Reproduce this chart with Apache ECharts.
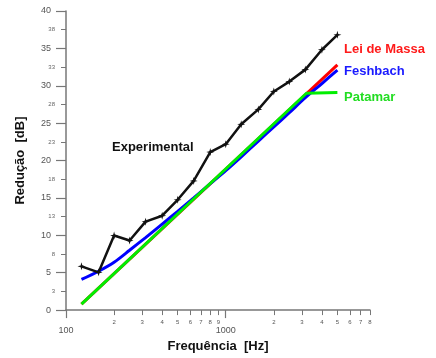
<!DOCTYPE html>
<html>
<head>
<meta charset="utf-8">
<script src="https://cdn.jsdelivr.net/npm/echarts@6/dist/echarts.min.js"></script>
<style>
  html, body { margin: 0; padding: 0; background: #fff; }
  #chart { width: 436px; height: 358px; }
</style>
</head>
<body>
<div id="chart"></div>
<script>
// third-octave bands
var freqs = [125, 160, 200, 250, 315, 400, 500, 630, 800, 1000, 1250, 1600, 2000, 2500, 3150, 4000, 5000];
var experimental = [5.85, 5.05, 9.97, 9.3, 11.83, 12.62, 14.75, 17.28, 21.13, 22.19, 24.85, 26.84, 29.24, 30.56, 32.16, 34.82, 36.81];
var feshbach = [4.1, 5.2, 6.4, 8.0, 9.7, 11.5, 13.2, 15.0, 16.9, 18.65, 20.5, 22.6, 24.5, 26.4, 28.4, 30.3, 32.1];
var massaFreqs = [125, 5000];
var massa = [0.8, 32.8];
var patamarFreqs = [125, 3200, 5000];
var patamar = [0.8, 29.0, 29.1];

var xMajor = [100, 1000];
var xMinor = [200, 300, 400, 500, 600, 700, 800, 900, 2000, 3000, 4000, 5000, 6000, 7000, 8000];

var font = 'Liberation Sans, Arial, sans-serif';

function pairs(xs, ys) {
  return xs.map(function (x, i) { return [x, ys[i]]; });
}

var chartDom = document.getElementById('chart');
var myChart = echarts.init(chartDom);

var axisColor = '#777';

var option = {
  animation: false,
  backgroundColor: '#fff',
  grid: { left: 66, right: 66, top: 11, bottom: 46 },
  xAxis: [
    {
      type: 'log',
      logBase: 10,
      min: 100,
      max: 8000,
      position: 'bottom',
      name: 'Frequência  [Hz]',
      nameLocation: 'middle',
      nameGap: 26,
      nameTextStyle: { color: '#111', fontSize: 13, fontWeight: 'bold', fontFamily: font },
      axisLine: { lineStyle: { color: axisColor, width: 1.5 } },
      axisTick: { customValues: xMajor, length: 8, lineStyle: { color: axisColor, width: 1.2 } },
      axisLabel: {
        customValues: xMajor,
        margin: 16,
        fontSize: 9,
        color: '#555',
        fontFamily: font,
        formatter: function (v) { return String(Math.round(v)); }
      },
      splitLine: { show: false }
    },
    {
      type: 'log',
      logBase: 10,
      min: 100,
      max: 8000,
      position: 'bottom',
      axisLine: { show: false },
      axisTick: { customValues: xMinor, length: 5, lineStyle: { color: axisColor, width: 1 } },
      axisLabel: {
        customValues: xMinor,
        margin: 9,
        fontSize: 6,
        color: '#555',
        fontFamily: font,
        formatter: function (v) {
          var p = Math.pow(10, Math.floor(Math.log10(v) + 1e-9));
          return String(Math.round(v / p));
        }
      },
      splitLine: { show: false }
    }
  ],
  yAxis: [
    {
      type: 'value',
      min: 0,
      max: 40,
      interval: 5,
      position: 'left',
      name: 'Redução  [dB]',
      nameLocation: 'middle',
      nameGap: 39,
      nameTextStyle: { color: '#111', fontSize: 13, fontWeight: 'bold', fontFamily: font },
      axisLine: { show: true, lineStyle: { color: axisColor, width: 1.5 } },
      axisTick: { show: true, length: 10, lineStyle: { color: axisColor, width: 1.2 } },
      axisLabel: { margin: 15, fontSize: 9, color: '#555', fontFamily: font },
      splitLine: { show: false }
    },
    {
      type: 'value',
      min: 0,
      max: 40,
      interval: 2.5,
      position: 'left',
      axisLine: { show: false },
      axisTick: { show: true, length: 5, lineStyle: { color: axisColor, width: 1 } },
      axisLabel: {
        margin: 11,
        fontSize: 6,
        color: '#666',
        fontFamily: font,
        formatter: function (v) { return v % 5 === 0 ? '' : String(Math.round(v)); }
      },
      splitLine: { show: false }
    }
  ],
  graphic: [
    { type: 'text', left: 344, top: 43, style: { text: 'Lei de Massa', fill: '#ff1a1a', font: 'bold 13px ' + font } },
    { type: 'text', left: 344, top: 65, style: { text: 'Feshbach', fill: '#1a1aff', font: 'bold 13px ' + font } },
    { type: 'text', left: 344, top: 91, style: { text: 'Patamar', fill: '#22dd22', font: 'bold 13px ' + font } },
    { type: 'text', left: 112, top: 141, style: { text: 'Experimental', fill: '#111', font: 'bold 13px ' + font } }
  ],
  series: [
    {
      name: 'Lei de Massa',
      type: 'line',
      data: pairs(massaFreqs, massa),
      showSymbol: false,
      lineStyle: { color: '#ff0000', width: 3 },
      z: 2
    },
    {
      name: 'Feshbach',
      type: 'line',
      data: pairs(freqs, feshbach),
      showSymbol: false,
      smooth: 0.3,
      lineStyle: { color: '#0000ff', width: 3 },
      z: 3
    },
    {
      name: 'Patamar',
      type: 'line',
      data: pairs(patamarFreqs, patamar),
      showSymbol: false,
      lineStyle: { color: '#00ee00', width: 3 },
      z: 4
    },
    {
      name: 'Experimental',
      type: 'line',
      data: pairs(freqs, experimental),
      symbol: 'path://M0,-1L0.22,-0.22L1,0L0.22,0.22L0,1L-0.22,0.22L-1,0L-0.22,-0.22Z',
      symbolSize: 8,
      itemStyle: { color: '#111' },
      lineStyle: { color: '#111', width: 2.5 },
      z: 5
    }
  ]
};

myChart.setOption(option);
</script>
</body>
</html>
